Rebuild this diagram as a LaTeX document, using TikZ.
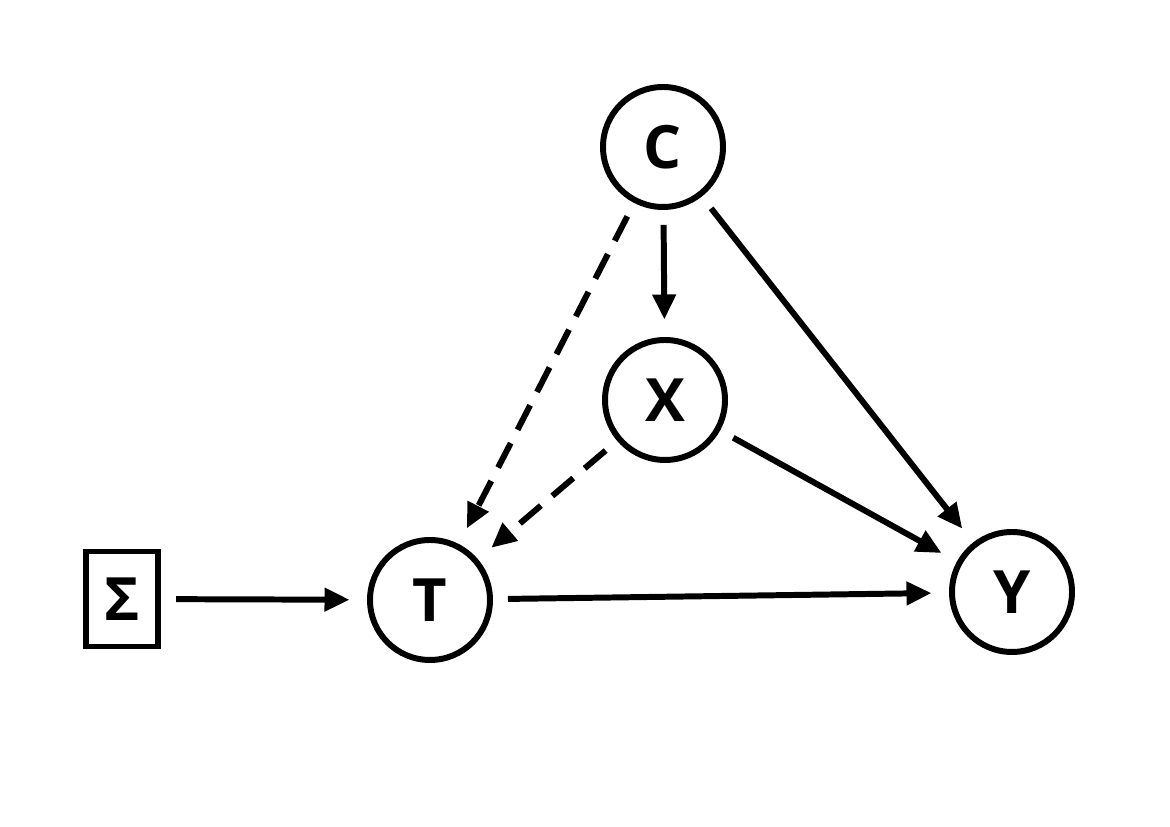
\documentclass[tikz,border=0pt]{standalone}
\usepackage{fontspec}
\setmainfont{Open Sans}
\usetikzlibrary{arrows.meta,positioning}

\begin{document}
\begin{tikzpicture}[
    var/.style={circle, draw=black, line width=3.4pt, minimum size=2.4cm, inner sep=0pt,
                font=\fontsize{34}{40}\selectfont\bfseries},
    inst/.style={rectangle, draw=black, line width=3.4pt, minimum width=1.45cm, minimum height=1.9cm,
                 inner sep=0pt, font=\fontsize{34}{40}\selectfont\bfseries},
    arrow/.style={-{Triangle[length=0.5cm, width=0.45cm]}, line width=3.4pt, shorten <=0.3cm, shorten >=0.35cm},
    dasharrow/.style={arrow, dash pattern=on 0.55cm off 0.3cm}
]
    \useasboundingbox (0,0) rectangle (23.4,16.54);

    % variables
    \node[var] (c) at (13.26,13.6) {C};
    \node[var] (x) at (13.3,8.54) {X};
    \node[var] (t) at (8.6,4.54) {T};
    \node[var] (y) at (20.24,4.7) {Y};

    % instrument
    \node[inst] (s) at (2.44,4.56) {Σ};

    % edges
    \draw[arrow] (s) -- (t);
    \draw[arrow] (t) -- (y);
    \draw[arrow] (c) -- (x);
    \draw[arrow] (c) -- (y);
    \draw[arrow] (x) -- (y);
    \draw[dasharrow] (c) -- (t);
    \draw[dasharrow] (x) -- (t);
\end{tikzpicture}
\end{document}
